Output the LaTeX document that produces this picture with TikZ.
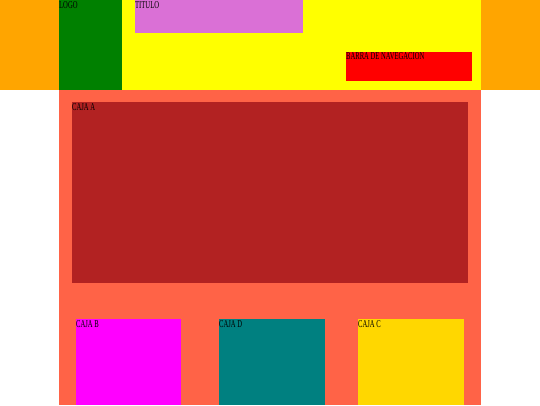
\documentclass[tikz,border=0pt]{standalone}
\usepackage{fontspec}
\setmainfont{Liberation Serif}[FakeStretch=0.63]

\definecolor{bandorange}{HTML}{FFA500}
\definecolor{headyellow}{HTML}{FFFF00}
\definecolor{logogreen}{HTML}{008000}
\definecolor{titleorchid}{HTML}{DA70D6}
\definecolor{navred}{HTML}{FF0000}
\definecolor{bodytomato}{HTML}{FF6347}
\definecolor{boxbrick}{HTML}{B22222}
\definecolor{boxmagenta}{HTML}{FF00FF}
\definecolor{boxteal}{HTML}{008080}
\definecolor{boxgold}{HTML}{FFD700}

\tikzset{tag/.style={anchor=base west, inner sep=0pt, text=black,
  font=\fontsize{10.5}{12}\selectfont}}

\begin{document}
\begin{tikzpicture}[x=1pt,y=-1pt]
\useasboundingbox (0,0) rectangle (540,405);
\fill[color=white] (0,0) rectangle (540,405);
\fill[color=bandorange] (0,0) rectangle (540,90);
\fill[color=headyellow] (59,0) rectangle (481,90);
\fill[color=logogreen] (59,0) rectangle (122,90);
\fill[color=titleorchid] (135,0) rectangle (303,33);
\fill[color=navred] (346,52) rectangle (472,81);
\fill[color=bodytomato] (59,90) rectangle (481,405);
\fill[color=boxbrick] (72,102) rectangle (468,283);
\fill[color=boxmagenta] (76,319) rectangle (181,405);
\fill[color=boxteal] (219,319) rectangle (325,405);
\fill[color=boxgold] (358,319) rectangle (464,405);

\node[tag] (logo) at (59,8.5) {LOGO};
\node[tag] (titulo) at (135,8.5) {TITULO};
\node[tag] (barra) at (346,59.5) {BARRA DE NAVEGACION};
\node[tag] (cajaa) at (72,110) {CAJA A};
\node[tag] (cajab) at (76,327) {CAJA B};
\node[tag] (cajad) at (219,327) {CAJA D};
\node[tag] (cajac) at (358,327) {CAJA C};
\end{tikzpicture}
\end{document}
